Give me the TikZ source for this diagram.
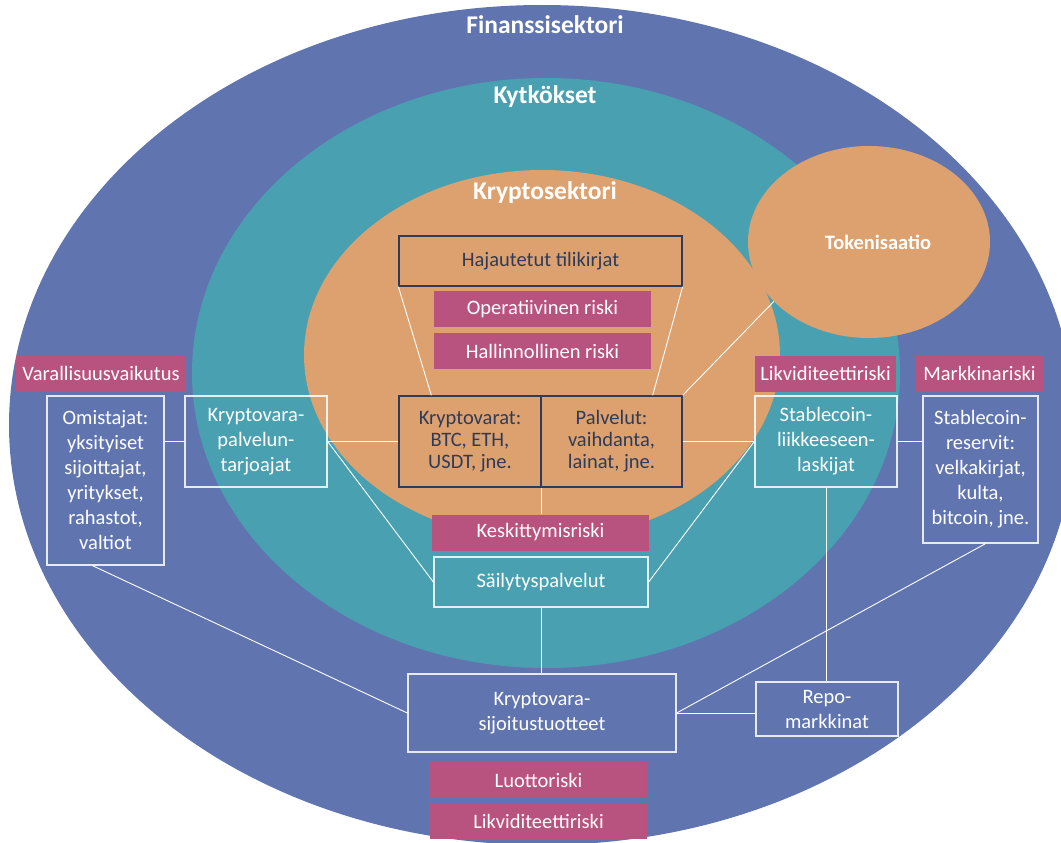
\documentclass[tikz,border=0pt]{standalone}
\usepackage{fontspec}
\setmainfont{Carlito}
\usetikzlibrary{positioning,calc,shapes.geometric}
\definecolor{finblue}{RGB}{96,117,176}
\definecolor{linkteal}{RGB}{73,160,176}
\definecolor{cryorange}{RGB}{220,161,110}
\definecolor{riskpink}{RGB}{184,82,127}
\definecolor{navytext}{RGB}{46,59,90}

\begin{document}
\begin{tikzpicture}[
    x=1pt, y=-1pt,
    font=\fontsize{20.5}{25}\selectfont,
    sector/.style={text=white, font=\fontsize{25.5}{30}\selectfont\bfseries},
    risk/.style={rectangle, fill=riskpink, text=white, minimum width=217pt, minimum height=36pt, inner sep=0pt},
    actor/.style={rectangle, draw=white, draw opacity=0.85, line width=1.3pt, text=white, align=center, inner sep=0pt},
    core/.style={rectangle, draw=navytext, line width=1.3pt, text=navytext, align=center, inner sep=0pt},
    link/.style={draw=white, line width=0.9pt}
]
    \useasboundingbox (0,0) rectangle (1061,843);

    % sectors
    \fill[finblue] (542,425) ellipse [x radius=533pt, y radius=420pt];
    \fill[linkteal] (546,373) ellipse [x radius=354pt, y radius=295pt];
    \fill[cryorange] (542,355) ellipse [x radius=238pt, y radius=185pt];
    \node[ellipse, fill=cryorange, minimum width=242pt, minimum height=192pt, inner sep=0pt,
        label={[text=white, font=\fontsize{20.5}{24}\selectfont\bfseries, xshift=9pt]center:Tokenisaatio}] (token) at (869,242) {};

    \node[sector] (fin) at (545,25) {Finanssisektori};
    \node[sector] (kyt) at (545,97) {Kytkökset};
    \node[sector] (kry) at (545,193) {Kryptosektori};

    % crypto sector
    \node[core, minimum width=283pt, minimum height=50pt] (ledger) at (540.5,261) {Hajautetut tilikirjat};
    \node[risk] (oprisk) at (542.5,309) {Operatiivinen riski};
    \node[risk, below=6pt of oprisk] (govrisk) {Hallinnollinen riski};
    \node[core, minimum width=142pt, minimum height=91pt, font=\fontsize{20.5}{22}\selectfont] (assets) at (470,441.5) {Kryptovarat:\\BTC, ETH,\\USDT, jne.};
    \node[core, minimum width=141pt, minimum height=91pt, font=\fontsize{20.5}{22}\selectfont] (services) at (611.5,441.5) {Palvelut:\\vaihdanta,\\lainat, jne.};

    % links
    \node[risk, fill=riskpink] (wealth) at (101,373.5) [minimum width=170pt] {Varallisuusvaikutus};
    \node[actor, minimum width=117pt, minimum height=169pt] (owners) at (105.5,480.5) {Omistajat:\\yksityiset\\sijoittajat,\\yritykset,\\rahastot,\\valtiot};
    \node[actor, minimum width=142pt, minimum height=91pt] (providers) at (256,441.5) {Kryptovara-\\palvelun-\\tarjoajat};
    \node[risk, minimum width=141pt] (liqrisk) at (825.5,373.5) {Likviditeettiriski};
    \node[actor, minimum width=142pt, minimum height=91pt] (issuers) at (826,441.5) {Stablecoin-\\liikkeeseen-\\laskijat};
    \node[risk, minimum width=129pt] (mktrisk) at (979.5,373.5) {Markkinariski};
    \node[actor, minimum width=115pt, minimum height=147pt] (reserves) at (980.5,469.5) {Stablecoin-\\reservit:\\velkakirjat,\\kulta,\\bitcoin, jne.};
    \node[risk] (concrisk) at (540.5,532.5) {Keskittymisriski};
    \node[actor, minimum width=214pt, minimum height=50pt] (custody) at (541,582) {Säilytyspalvelut};
    \node[actor, minimum width=268pt, minimum height=78pt] (products) at (542,713) {Kryptovara-\\sijoitustuotteet};
    \node[actor, minimum width=142pt, minimum height=54pt] (repo) at (827,709) {Repo-\\markkinat};
    \node[risk] (credrisk) at (538.5,780) {Luottoriski};
    \node[risk, below=5pt of credrisk] (liqrisk2) {Likviditeettiriski};

    \draw[link] (ledger.south west) -- ($(assets.north west)+(33,0)$);
    \draw[link] (ledger.south east) -- ($(services.north east)+(-30,0)$);
    \draw[link] (services.north east) -- (token.212);
    \draw[link] (owners.east |- providers.east) -- (providers.west);
    \draw[link] (providers.east) -- (assets.west);
    \draw[link] (services.east) -- (issuers.west);
    \draw[link] (issuers.east) -- (reserves.west |- issuers.east);
    \draw[link] (providers.east) -- (custody.west);
    \draw[link] (issuers.west) -- (custody.east);
    \draw[link] (assets.south east) -- (assets.south east |- concrisk.north);
    \draw[link] (custody.south) -- (custody.south |- products.north);
    \draw[link] ($(owners.south)+(-13,0)$) -- (products.west);
    \draw[link] ($(reserves.south)+(5,0)$) -- (products.east);
    \draw[link] (products.east) -- (products.east -| repo.west);
    \draw[link] (issuers.south) -- (issuers.south |- repo.north);
\end{tikzpicture}
\end{document}
